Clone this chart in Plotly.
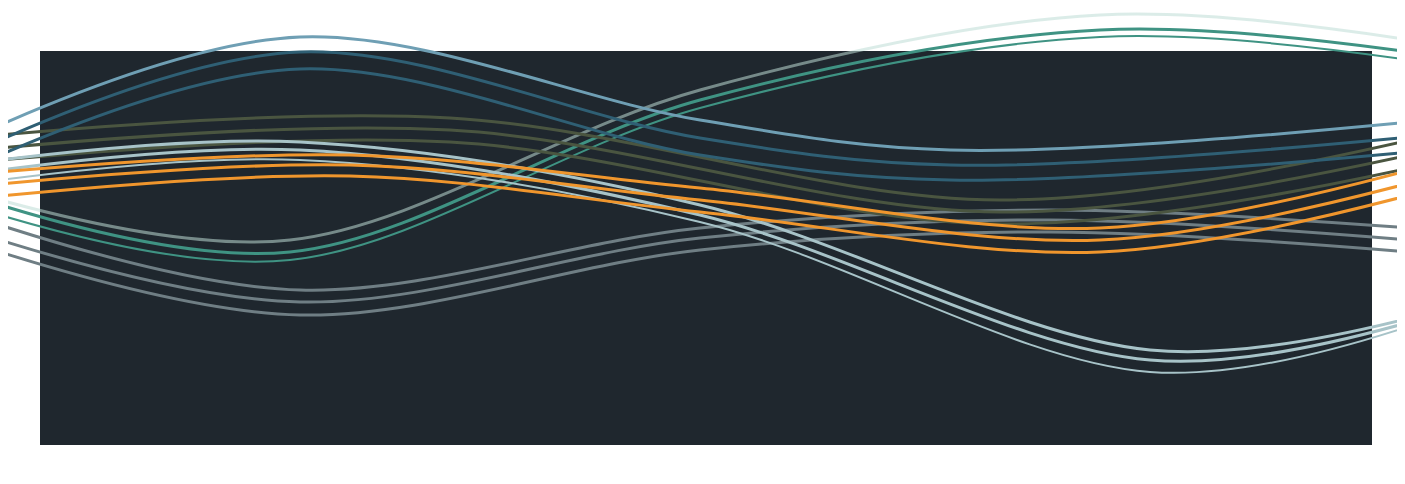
import plotly.graph_objects as go

# decorative wave chart: 6 bundles of 3 spline lines each
x_blue = [0, 300, 700, 950, 1410]
blue = [[125, 37, 120, 150, 122], [140, 52, 138, 165, 137], [155, 69, 155, 180, 152]]

x_teal = [0, 290, 700, 1100, 1410]
teal = [[200, 240, 90, 15, 40], [205, 252, 100, 30, 52], [215, 260, 108, 37, 60]]

x_olive = [0, 450, 1000, 1410]
olive = [[135, 118, 200, 140], [148, 130, 212, 155], [160, 142, 224, 168]]

x_pale = [0, 300, 700, 1150, 1410]
pale = [[160, 142, 205, 350, 318], [170, 150, 215, 360, 322], [180, 160, 222, 372, 326]]

x_orange = [0, 350, 700, 1100, 1410]
orange = [[172, 155, 188, 228, 170], [184, 165, 200, 240, 183], [196, 176, 212, 252, 195]]

x_grey = [0, 300, 700, 1050, 1410]
grey = [[225, 290, 228, 210, 228], [240, 302, 238, 220, 240], [252, 315, 250, 232, 252]]

bundles = [
    (x_teal, teal, ["rgba(190,220,214,0.55)", "#3f9383", "#3f9383"], [3, 3, 2]),
    (x_grey, grey, ["#6f7e84", "#6f7e84", "#6f7e84"], [3, 3, 3]),
    (x_olive, olive, ["#4a5540", "#4a5540", "#4a5540"], [3, 3, 3]),
    (x_blue, blue, ["#6f9fb4", "#2f5f74", "#2f5f74"], [3, 3, 3]),
    (x_pale, pale, ["#a7c3c8", "#a7c3c8", "#a7c3c8"], [3, 3, 2]),
    (x_orange, orange, ["#f0962d", "#f0962d", "#f0962d"], [3, 3, 3]),
]

fig = go.Figure()
for xs, ys, colors, widths in bundles:
    for y, c, w in zip(ys, colors, widths):
        fig.add_trace(go.Scatter(x=xs, y=y, mode="lines",
                                 line=dict(color=c, width=w, shape="spline", smoothing=1.0),
                                 hoverinfo="skip"))

fig.add_shape(type="rect", x0=40, x1=1372, y0=51, y1=445,
              fillcolor="#1f272e", line_width=0, layer="below")

fig.update_layout(
    width=1405, height=484,
    margin=dict(l=0, r=0, t=0, b=0),
    paper_bgcolor="white", plot_bgcolor="white",
    showlegend=False,
    xaxis=dict(range=[8, 1413], visible=False),
    yaxis=dict(range=[492, 8], visible=False),
)
fig.write_html("out.html")
